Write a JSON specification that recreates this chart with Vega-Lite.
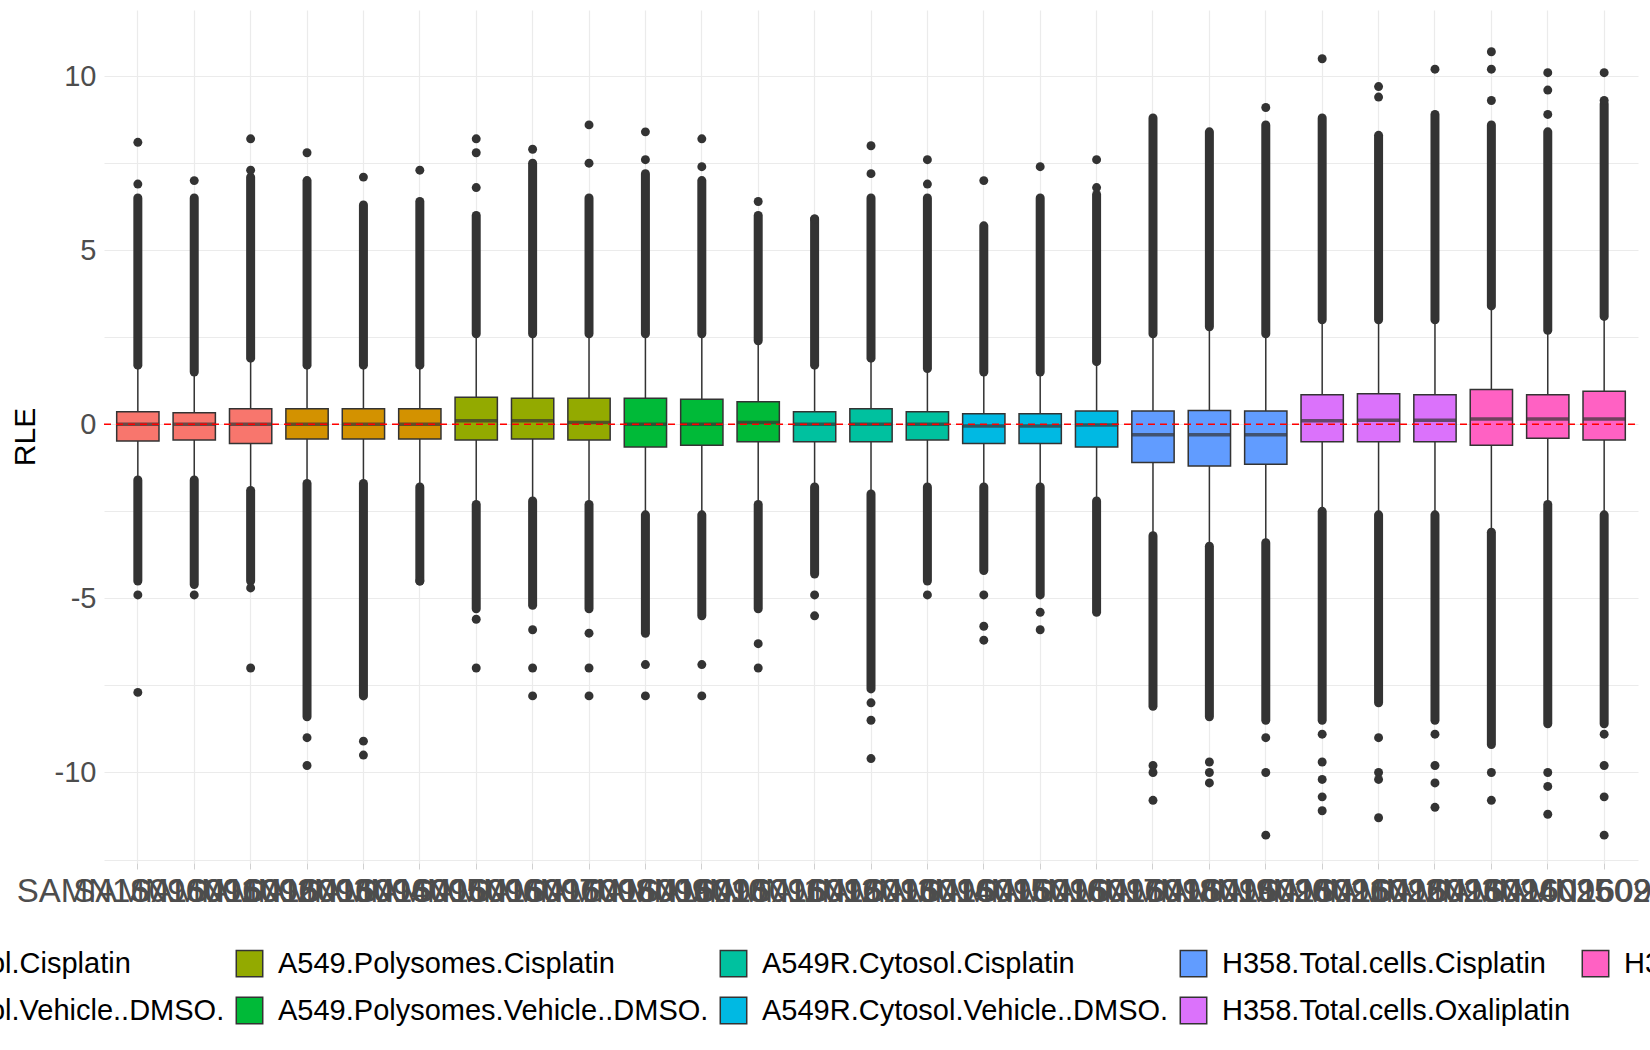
{
  "$schema": "https://vega.github.io/schema/vega-lite/v6.json",
  "width": 1534,
  "height": 853,
  "autosize": "none",
  "padding": {"left": 104, "top": 10, "right": 12, "bottom": 187},
  "background": "white",
  "config": {
    "view": {"stroke": null},
    "font": "Liberation Sans"
  },
  "datasets": {
    "stats": [
      {"s":"SAMN16096001","g":"A549.Cytosol.Cisplatin","q1":-0.48,"med":0,"q3":0.36,"wlo":-1.6,"whi":1.7,"dhi":6.5,"dlo":-4.5},
      {"s":"SAMN16096002","g":"A549.Cytosol.Cisplatin","q1":-0.45,"med":0,"q3":0.33,"wlo":-1.6,"whi":1.5,"dhi":6.5,"dlo":-4.6},
      {"s":"SAMN16096003","g":"A549.Cytosol.Cisplatin","q1":-0.55,"med":0,"q3":0.45,"wlo":-1.9,"whi":1.9,"dhi":7.1,"dlo":-4.5},
      {"s":"SAMN16096004","g":"A549.Cytosol.Vehicle..DMSO.","q1":-0.42,"med":0,"q3":0.45,"wlo":-1.7,"whi":1.7,"dhi":7.0,"dlo":-8.4},
      {"s":"SAMN16096005","g":"A549.Cytosol.Vehicle..DMSO.","q1":-0.42,"med":0,"q3":0.45,"wlo":-1.7,"whi":1.7,"dhi":6.3,"dlo":-7.8},
      {"s":"SAMN16096006","g":"A549.Cytosol.Vehicle..DMSO.","q1":-0.42,"med":0,"q3":0.45,"wlo":-1.8,"whi":1.7,"dhi":6.4,"dlo":-4.5},
      {"s":"SAMN16096007","g":"A549.Polysomes.Cisplatin","q1":-0.45,"med":0.1,"q3":0.78,"wlo":-2.3,"whi":2.6,"dhi":6.0,"dlo":-5.3},
      {"s":"SAMN16096008","g":"A549.Polysomes.Cisplatin","q1":-0.42,"med":0.1,"q3":0.75,"wlo":-2.2,"whi":2.6,"dhi":7.5,"dlo":-5.2},
      {"s":"SAMN16096009","g":"A549.Polysomes.Cisplatin","q1":-0.45,"med":0.05,"q3":0.75,"wlo":-2.3,"whi":2.6,"dhi":6.5,"dlo":-5.3},
      {"s":"SAMN16096010","g":"A549.Polysomes.Vehicle..DMSO.","q1":-0.65,"med":0,"q3":0.75,"wlo":-2.6,"whi":2.6,"dhi":7.2,"dlo":-6.0},
      {"s":"SAMN16096011","g":"A549.Polysomes.Vehicle..DMSO.","q1":-0.6,"med":0,"q3":0.72,"wlo":-2.6,"whi":2.6,"dhi":7.0,"dlo":-5.5},
      {"s":"SAMN16096012","g":"A549.Polysomes.Vehicle..DMSO.","q1":-0.5,"med":0.05,"q3":0.65,"wlo":-2.3,"whi":2.4,"dhi":6.0,"dlo":-5.3},
      {"s":"SAMN16096013","g":"A549R.Cytosol.Cisplatin","q1":-0.5,"med":0,"q3":0.36,"wlo":-1.8,"whi":1.7,"dhi":5.9,"dlo":-4.3},
      {"s":"SAMN16096014","g":"A549R.Cytosol.Cisplatin","q1":-0.5,"med":0,"q3":0.45,"wlo":-2.0,"whi":1.9,"dhi":6.5,"dlo":-7.6},
      {"s":"SAMN16096015","g":"A549R.Cytosol.Cisplatin","q1":-0.45,"med":0,"q3":0.36,"wlo":-1.8,"whi":1.6,"dhi":6.5,"dlo":-4.5},
      {"s":"SAMN16096016","g":"A549R.Cytosol.Vehicle..DMSO.","q1":-0.55,"med":-0.05,"q3":0.3,"wlo":-1.8,"whi":1.5,"dhi":5.7,"dlo":-4.2},
      {"s":"SAMN16096017","g":"A549R.Cytosol.Vehicle..DMSO.","q1":-0.55,"med":-0.05,"q3":0.3,"wlo":-1.8,"whi":1.5,"dhi":6.5,"dlo":-4.9},
      {"s":"SAMN16096018","g":"A549R.Cytosol.Vehicle..DMSO.","q1":-0.65,"med":-0.02,"q3":0.38,"wlo":-2.2,"whi":1.8,"dhi":6.6,"dlo":-5.4},
      {"s":"SAMN16096019","g":"H358.Total.cells.Cisplatin","q1":-1.1,"med":-0.3,"q3":0.38,"wlo":-3.2,"whi":2.6,"dhi":8.8,"dlo":-8.1},
      {"s":"SAMN16096020","g":"H358.Total.cells.Cisplatin","q1":-1.2,"med":-0.3,"q3":0.4,"wlo":-3.5,"whi":2.8,"dhi":8.4,"dlo":-8.4},
      {"s":"SAMN16096021","g":"H358.Total.cells.Cisplatin","q1":-1.15,"med":-0.3,"q3":0.38,"wlo":-3.4,"whi":2.6,"dhi":8.6,"dlo":-8.5},
      {"s":"SAMN16096022","g":"H358.Total.cells.Oxaliplatin","q1":-0.5,"med":0.1,"q3":0.85,"wlo":-2.5,"whi":3.0,"dhi":8.8,"dlo":-8.5},
      {"s":"SAMN16096023","g":"H358.Total.cells.Oxaliplatin","q1":-0.5,"med":0.12,"q3":0.88,"wlo":-2.6,"whi":3.0,"dhi":8.3,"dlo":-8.0},
      {"s":"SAMN16096024","g":"H358.Total.cells.Oxaliplatin","q1":-0.5,"med":0.12,"q3":0.85,"wlo":-2.6,"whi":3.0,"dhi":8.9,"dlo":-8.5},
      {"s":"SAMN16096025","g":"H358.Total.cells.Vehicle..DMSO.","q1":-0.6,"med":0.15,"q3":1.0,"wlo":-3.1,"whi":3.4,"dhi":8.6,"dlo":-9.2},
      {"s":"SAMN16096026","g":"H358.Total.cells.Vehicle..DMSO.","q1":-0.4,"med":0.15,"q3":0.85,"wlo":-2.3,"whi":2.7,"dhi":8.4,"dlo":-8.6},
      {"s":"SAMN16096027","g":"H358.Total.cells.Vehicle..DMSO.","q1":-0.45,"med":0.15,"q3":0.95,"wlo":-2.6,"whi":3.1,"dhi":9.2,"dlo":-8.6}
    ],
    "pts": [
      {"s":"SAMN16096001","v":8.1},{"s":"SAMN16096001","v":6.9},{"s":"SAMN16096001","v":-4.9},{"s":"SAMN16096001","v":-7.7},
      {"s":"SAMN16096002","v":7.0},{"s":"SAMN16096002","v":-4.9},
      {"s":"SAMN16096003","v":8.2},{"s":"SAMN16096003","v":7.3},{"s":"SAMN16096003","v":-4.7},{"s":"SAMN16096003","v":-7.0},
      {"s":"SAMN16096004","v":7.8},{"s":"SAMN16096004","v":-9.0},{"s":"SAMN16096004","v":-9.8},
      {"s":"SAMN16096005","v":7.1},{"s":"SAMN16096005","v":-9.1},{"s":"SAMN16096005","v":-9.5},
      {"s":"SAMN16096006","v":7.3},{"s":"SAMN16096006","v":-4.5},
      {"s":"SAMN16096007","v":8.2},{"s":"SAMN16096007","v":7.8},{"s":"SAMN16096007","v":6.8},{"s":"SAMN16096007","v":-5.6},{"s":"SAMN16096007","v":-7.0},
      {"s":"SAMN16096008","v":7.9},{"s":"SAMN16096008","v":-5.9},{"s":"SAMN16096008","v":-7.0},{"s":"SAMN16096008","v":-7.8},
      {"s":"SAMN16096009","v":8.6},{"s":"SAMN16096009","v":7.5},{"s":"SAMN16096009","v":-6.0},{"s":"SAMN16096009","v":-7.0},{"s":"SAMN16096009","v":-7.8},
      {"s":"SAMN16096010","v":8.4},{"s":"SAMN16096010","v":7.6},{"s":"SAMN16096010","v":-6.9},{"s":"SAMN16096010","v":-7.8},
      {"s":"SAMN16096011","v":8.2},{"s":"SAMN16096011","v":7.4},{"s":"SAMN16096011","v":-6.9},{"s":"SAMN16096011","v":-7.8},
      {"s":"SAMN16096012","v":6.4},{"s":"SAMN16096012","v":-6.3},{"s":"SAMN16096012","v":-7.0},
      {"s":"SAMN16096013","v":5.9},{"s":"SAMN16096013","v":-4.9},{"s":"SAMN16096013","v":-5.5},
      {"s":"SAMN16096014","v":8.0},{"s":"SAMN16096014","v":7.2},{"s":"SAMN16096014","v":-8.0},{"s":"SAMN16096014","v":-8.5},{"s":"SAMN16096014","v":-9.6},
      {"s":"SAMN16096015","v":7.6},{"s":"SAMN16096015","v":6.9},{"s":"SAMN16096015","v":-4.9},
      {"s":"SAMN16096016","v":7.0},{"s":"SAMN16096016","v":-4.9},{"s":"SAMN16096016","v":-5.8},{"s":"SAMN16096016","v":-6.2},
      {"s":"SAMN16096017","v":7.4},{"s":"SAMN16096017","v":-5.4},{"s":"SAMN16096017","v":-5.9},
      {"s":"SAMN16096018","v":7.6},{"s":"SAMN16096018","v":6.8},
      {"s":"SAMN16096019","v":-9.8},{"s":"SAMN16096019","v":-10.0},{"s":"SAMN16096019","v":-10.8},
      {"s":"SAMN16096020","v":-9.7},{"s":"SAMN16096020","v":-10.0},{"s":"SAMN16096020","v":-10.3},
      {"s":"SAMN16096021","v":9.1},{"s":"SAMN16096021","v":-9.0},{"s":"SAMN16096021","v":-10.0},{"s":"SAMN16096021","v":-11.8},
      {"s":"SAMN16096022","v":10.5},{"s":"SAMN16096022","v":-8.9},{"s":"SAMN16096022","v":-9.7},{"s":"SAMN16096022","v":-10.2},{"s":"SAMN16096022","v":-10.7},{"s":"SAMN16096022","v":-11.1},
      {"s":"SAMN16096023","v":9.7},{"s":"SAMN16096023","v":9.4},{"s":"SAMN16096023","v":-9.0},{"s":"SAMN16096023","v":-10.0},{"s":"SAMN16096023","v":-10.2},{"s":"SAMN16096023","v":-11.3},
      {"s":"SAMN16096024","v":10.2},{"s":"SAMN16096024","v":-8.9},{"s":"SAMN16096024","v":-9.8},{"s":"SAMN16096024","v":-10.3},{"s":"SAMN16096024","v":-11.0},
      {"s":"SAMN16096025","v":10.7},{"s":"SAMN16096025","v":10.2},{"s":"SAMN16096025","v":9.3},{"s":"SAMN16096025","v":-10.0},{"s":"SAMN16096025","v":-10.8},
      {"s":"SAMN16096026","v":10.1},{"s":"SAMN16096026","v":9.6},{"s":"SAMN16096026","v":8.9},{"s":"SAMN16096026","v":-10.0},{"s":"SAMN16096026","v":-10.4},{"s":"SAMN16096026","v":-11.2},
      {"s":"SAMN16096027","v":10.1},{"s":"SAMN16096027","v":9.3},{"s":"SAMN16096027","v":-8.9},{"s":"SAMN16096027","v":-9.8},{"s":"SAMN16096027","v":-10.7},{"s":"SAMN16096027","v":-11.8}
    ],
    "zero": [{"y": 0}]
  },
  "encoding": {
    "x": {
      "field": "s", "type": "nominal", "sort": null, "title": null,
      "scale": {"type": "band", "paddingInner": 0, "paddingOuter": 0.1},
      "axis": {
        "labelAngle": 0, "labelOverlap": false, "labelFontSize": 33, "labelColor": "#4D4D4D",
        "labelPadding": 6, "domain": false, "ticks": true, "tickSize": 6, "tickColor": "#D0D0D0",
        "grid": true, "gridColor": "#EBEBEB", "gridWidth": 1.2, "labelLimit": 0, "bandPosition": 0.5
      }
    }
  },
  "layer": [
    {
      "data": {"name": "stats"},
      "mark": {"type": "rule", "color": "#333333", "strokeWidth": 1.5},
      "encoding": {
        "y": {
          "field": "wlo", "type": "quantitative", "title": "RLE",
          "scale": {"domain": [-12.6, 11.9], "nice": false, "zero": false},
          "axis": {
            "values": [-12.5, -10, -7.5, -5, -2.5, 0, 2.5, 5, 7.5, 10],
            "labelExpr": "datum.value % 5 == 0 ? replace(datum.label, '−', '-') : ''",
            "labelFontSize": 29, "labelColor": "#4D4D4D", "labelPadding": 8,
            "domain": false, "ticks": false, "grid": true, "gridColor": "#EBEBEB", "gridWidth": 1.2,
            "titleFontSize": 30, "titleFontWeight": "normal", "titleColor": "black", "titlePadding": 14
          }
        },
        "y2": {"field": "whi"}
      }
    },
    {
      "data": {"name": "stats"},
      "mark": {"type": "rule", "color": "#333333", "strokeWidth": 9, "strokeCap": "round"},
      "encoding": {"y": {"field": "whi", "type": "quantitative"}, "y2": {"field": "dhi"}}
    },
    {
      "data": {"name": "stats"},
      "mark": {"type": "rule", "color": "#333333", "strokeWidth": 9, "strokeCap": "round"},
      "encoding": {"y": {"field": "dlo", "type": "quantitative"}, "y2": {"field": "wlo"}}
    },
    {
      "data": {"name": "pts"},
      "mark": {"type": "circle", "color": "#333333", "opacity": 1, "size": 80},
      "encoding": {"y": {"field": "v", "type": "quantitative"}}
    },
    {
      "data": {"name": "stats"},
      "mark": {"type": "bar", "width": {"band": 0.75}, "stroke": "#333333", "strokeWidth": 1.5},
      "encoding": {
        "y": {"field": "q1", "type": "quantitative"},
        "y2": {"field": "q3"},
        "color": {
          "field": "g", "type": "nominal", "title": null,
          "scale": {
            "domain": ["A549.Cytosol.Cisplatin", "A549.Cytosol.Vehicle..DMSO.", "A549.Polysomes.Cisplatin", "A549.Polysomes.Vehicle..DMSO.", "A549R.Cytosol.Cisplatin", "A549R.Cytosol.Vehicle..DMSO.", "H358.Total.cells.Cisplatin", "H358.Total.cells.Oxaliplatin", "H358.Total.cells.Vehicle..DMSO."],
            "range": ["#F8766D", "#D39200", "#93AA00", "#00BA38", "#00C19F", "#00B9E3", "#619CFF", "#DB72FB", "#FF61C3"]
          },
          "legend": {
            "orient": "none", "legendX": -308, "legendY": 939, "columns": 5,
            "columnPadding": 8, "rowPadding": 14, "symbolType": "square", "symbolSize": 700,
            "symbolStrokeColor": "#333333", "symbolStrokeWidth": 1.5, "symbolOpacity": 1,
            "labelFontSize": 29, "labelColor": "black", "labelLimit": 0, "labelOffset": 14
          }
        }
      }
    },
    {
      "data": {"name": "stats"},
      "mark": {"type": "tick", "color": "#333333", "thickness": 3.5},
      "encoding": {"y": {"field": "med", "type": "quantitative"}, "size": {"value": 42}}
    },
    {
      "data": {"name": "zero"},
      "mark": {"type": "rule", "color": "red", "strokeWidth": 1.6, "strokeDash": [7, 5]},
      "encoding": {"y": {"field": "y", "type": "quantitative"}, "x": {"value": 0}, "x2": {"value": 1534}}
    }
  ]
}
